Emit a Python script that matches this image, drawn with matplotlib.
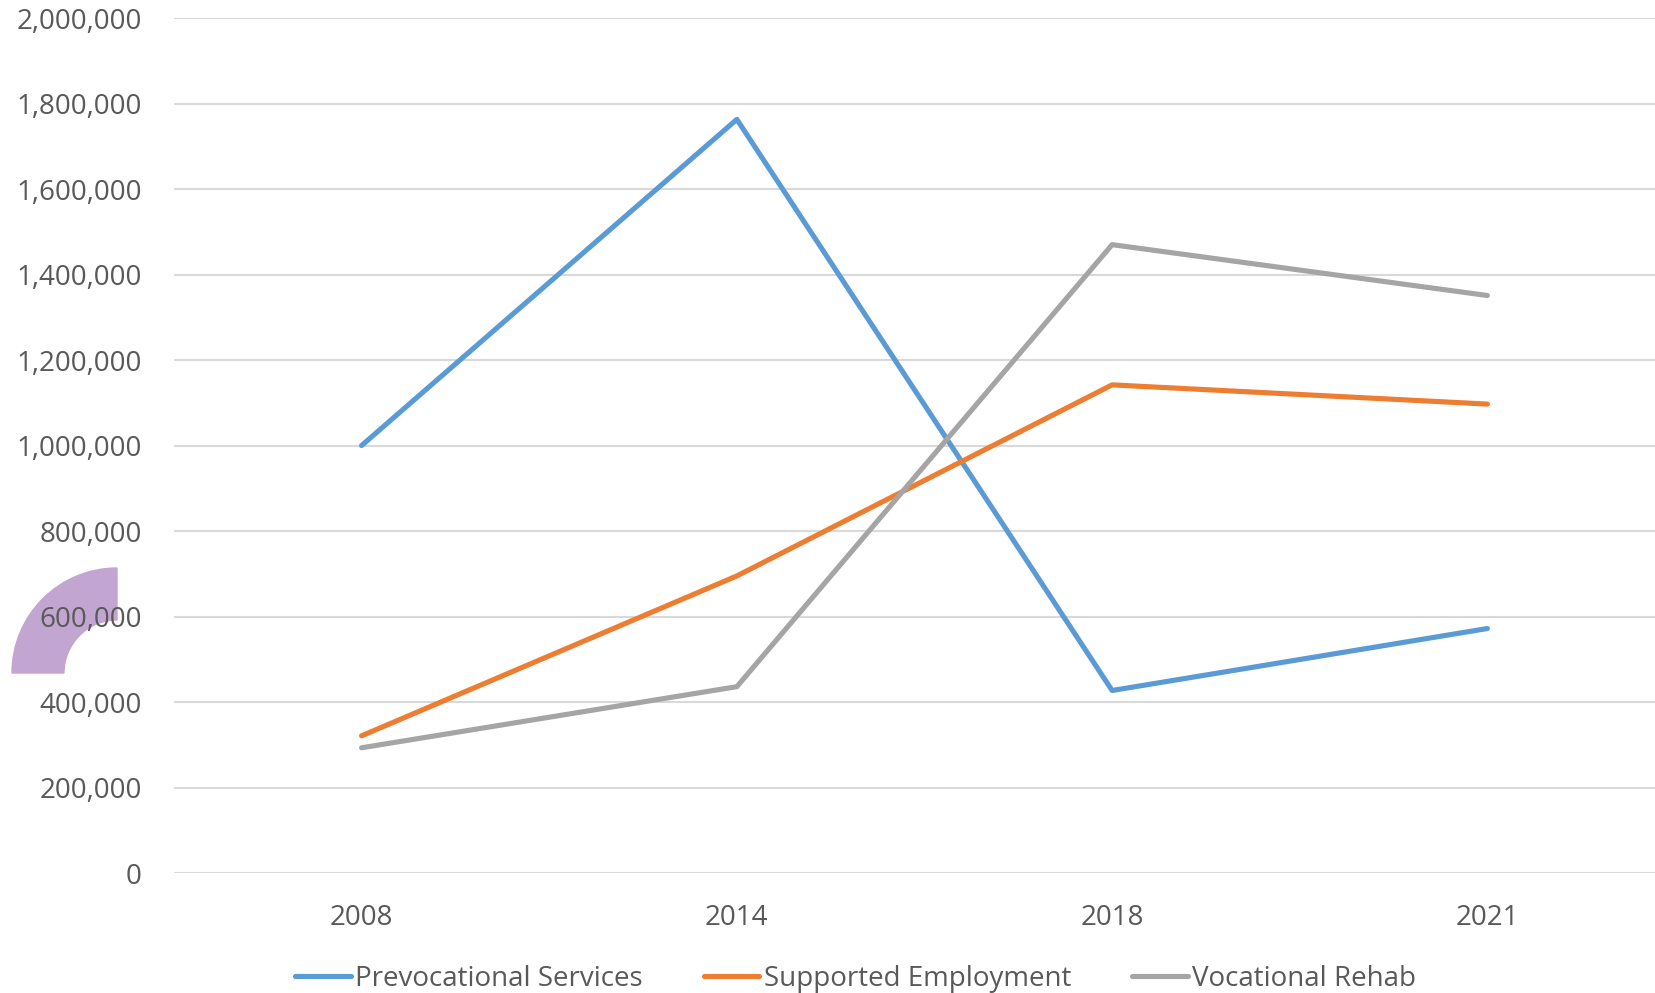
from matplotlib import pyplot as plt
from matplotlib.patches import Wedge
from matplotlib.ticker import FuncFormatter

years = ['2008', '2014', '2018', '2021']
prevocational = [1000000, 1763000, 427000, 572000]
supported = [321000, 695000, 1142000, 1097000]
vocational = [293000, 436000, 1470000, 1351000]

plt.rcParams['font.family'] = ['Open Sans', 'DejaVu Sans']

fig = plt.figure(figsize=(16.55, 9.93), dpi=100)
ax = fig.add_axes([0.1051, 0.1208, 0.907, 0.861])
ax.patch.set_alpha(0)

x = range(len(years))
ax.plot(x, prevocational, color='#5B9BD5', linewidth=3.7, label='Prevocational Services', solid_capstyle='round')
ax.plot(x, supported, color='#ED7D31', linewidth=3.7, label='Supported Employment', solid_capstyle='round')
ax.plot(x, vocational, color='#A5A5A5', linewidth=3.7, label='Vocational Rehab', solid_capstyle='round')

ax.set_xlim(-0.5, 3.5)
ax.set_ylim(0, 2000000)
ax.set_xticks(list(x))
ax.set_xticklabels(years)
ax.set_yticks(range(0, 2000001, 200000))
ax.yaxis.set_major_formatter(FuncFormatter(lambda v, p: f'{int(v):,}'))

ax.grid(True, axis='y', color='#D9D9D9', linewidth=1.5)
ax.set_axisbelow(True)
for s in ax.spines.values():
    s.set_visible(False)
ax.tick_params(axis='both', length=0, labelsize=20, labelcolor='#595959')
ax.tick_params(axis='y', pad=23)
ax.tick_params(axis='x', pad=22)

# purple quarter ring behind the 600,000 label
ring = Wedge((1.17, 3.20), 1.05, 90, 180, width=0.52, color='#C3A5D1',
             transform=fig.dpi_scale_trans, zorder=-1)
fig.patches.append(ring)

fig.legend(loc='center', bbox_to_anchor=(0.517, 0.014), ncol=3, frameon=False,
           fontsize=20, labelcolor='#595959', handlelength=2.0, handletextpad=0.15,
           columnspacing=2.2)

fig.savefig('out.png', dpi=100)
